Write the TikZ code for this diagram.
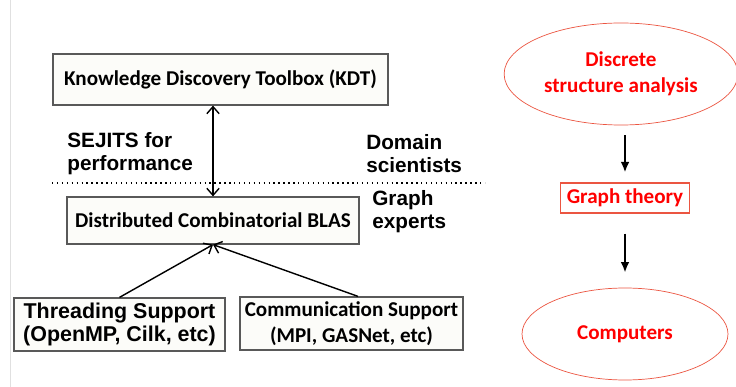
\documentclass[tikz,border=0pt]{standalone}
\usepackage{fontspec}
\setmainfont{Carlito}
\newfontfamily\arialfont{Liberation Sans}
\usetikzlibrary{positioning,calc,arrows.meta,shapes.geometric}
\definecolor{ellred}{RGB}{235,85,65}
\definecolor{boxfill}{RGB}{252,252,249}
\begin{document}
\begin{tikzpicture}[font=\fontsize{12}{14.5}\selectfont\bfseries,
  box/.style={draw=black!65, line width=0.7pt, fill=boxfill, align=center, inner sep=2pt},
  note/.style={font=\arialfont\fontsize{11.8}{13}\selectfont\bfseries, align=left, anchor=west, inner sep=0pt},
  redtext/.style={text=red, align=center},
  link/.style={-{Straight Barb[length=4pt,width=7pt]}, line width=0.8pt},
  flow/.style={-{Latex[length=6pt,width=5pt]}, line width=1.3pt}]
    \useasboundingbox (0,0) rectangle (14.72,-7.74);
    \draw[black!12] (0.2,0) -- (0.2,-7.74);
    % layered stack
    \node[box, minimum width=6.7cm, minimum height=1.02cm] (kdt) at (4.41,-1.59) {Knowledge Discovery Toolbox (KDT)};
    \node[box, minimum width=5.84cm, minimum height=0.94cm] (dcb) at (4.26,-4.41) {Distributed Combinatorial BLAS};
    \node[box, minimum width=4.22cm, minimum height=1.06cm, font=\arialfont\fontsize{12.2}{13.6}\selectfont\bfseries] (thr) at (2.39,-6.49) {Threading Support\\(OpenMP, Cilk, etc)};
    \node[box, minimum width=4.46cm, minimum height=1.06cm] (comm) at (7.03,-6.47) {Communication Support\\(MPI, GASNet, etc)};
    \node[note] (sejits) at (1.34,-3.08) {SEJITS for\\performance};
    \node[note] (domain) at (7.32,-3.08) {Domain\\scientists};
    \node[note] (gexp) at (7.44,-4.24) {Graph\\experts};
    \coordinate (lineL) at (1.04,-3.66);
    \coordinate (lineR) at (9.7,-3.66);
    %
    \draw[dotted, line width=0.8pt] (lineL) -- (lineR);
    \draw[link, {Straight Barb[length=4pt,width=7pt]}-{Straight Barb[length=4pt,width=7pt]}] (kdt.south -| dcb.north) -- (dcb.north);
    \draw[link] (thr.north) -- (dcb.south);
    \draw[link] ($(comm.north)+(0.13,0)$) -- (dcb.south);
    % right column
    \node[ellipse, draw=ellred, redtext, minimum width=4.64cm, minimum height=2.04cm] (dsa) at (12.42,-1.48) {Discrete\\structure analysis};
    \node[draw=ellred, line width=0.6pt, redtext, minimum width=2.56cm, minimum height=0.6cm] (gth) at (12.5,-3.96) {Graph theory};
    \node[ellipse, draw=ellred, redtext, minimum width=4.12cm, minimum height=1.84cm] (cmp) at (12.5,-6.68) {Computers};
    %
    \draw[flow, shorten <=0.2cm, shorten >=0.2cm] (dsa.south -| gth.north) -- (gth.north);
    \draw[flow, shorten <=0.4cm, shorten >=0.3cm] (gth.south) -- (cmp.north);
\end{tikzpicture}
\end{document}
